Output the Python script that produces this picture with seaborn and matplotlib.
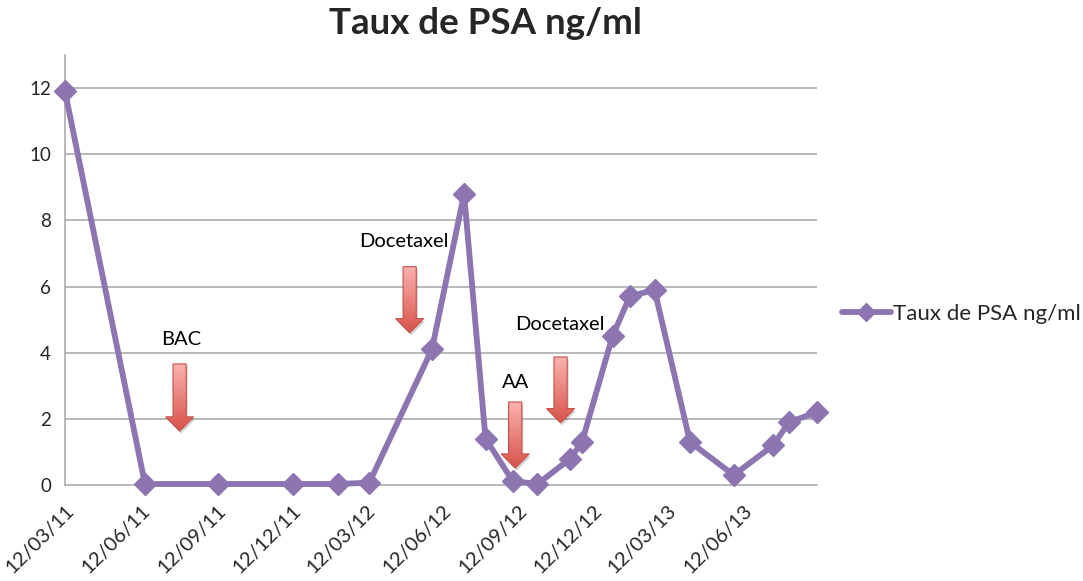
import matplotlib
matplotlib.use("Agg")
import matplotlib.pyplot as plt
import matplotlib.dates as mdates
import matplotlib.transforms as mtransforms
from matplotlib.patches import Polygon
from matplotlib.colors import LinearSegmentedColormap
import numpy as np
import pandas as pd
import seaborn as sns

# PSA measurements (date, ng/ml)
dates = ["2011-03-12", "2011-06-17", "2011-09-13", "2011-12-14", "2012-02-06",
         "2012-03-15", "2012-05-30", "2012-07-08", "2012-08-03", "2012-09-05",
         "2012-10-05", "2012-11-14", "2012-11-28", "2013-01-04", "2013-01-25",
         "2013-02-24", "2013-04-08", "2013-05-31", "2013-07-18", "2013-08-06",
         "2013-09-09"]
psa = [11.9, 0.03, 0.03, 0.03, 0.03,
       0.07, 4.1, 8.8, 1.4, 0.12,
       0.03, 0.8, 1.3, 4.5, 5.7,
       5.9, 1.3, 0.3, 1.2, 1.9,
       2.2]

# Quarterly tick dates
tick_dates = ["2011-03-12", "2011-06-12", "2011-09-12", "2011-12-12", "2012-03-12",
              "2012-06-12", "2012-09-12", "2012-12-12", "2013-03-12", "2013-06-12"]
y_ticks = [0, 2, 4, 6, 8, 10, 12]

# Treatment annotations: label, date, label height, arrow top, arrow tip
treat_labels = ["BAC", "Docetaxel", "AA", "Docetaxel"]
treat_dates = ["2011-07-29", "2012-05-03", "2012-09-08", "2012-11-02"]
treat_label_dates = ["2011-07-31", "2012-04-26", "2012-09-08", "2012-11-01"]
treat_label_y = [4.4, 7.35, 3.1, 4.85]
treat_top = [3.66, 6.6, 2.51, 3.87]
treat_tip = [1.63, 4.6, 0.51, 1.88]

series_name = "Taux de PSA ng/ml"
purple = "#8c75b1"
grid_gray = "#a6a6a6"

df = pd.DataFrame({"date": pd.to_datetime(dates), "psa": psa})

sns.set_style("white")
plt.rcParams["font.family"] = ["Lato", "DejaVu Sans"]

W, H = 1083, 581
fig = plt.figure(figsize=(W / 100, H / 100), dpi=100)
ax = fig.add_axes([65 / W, 1 - 485 / H, (817 - 65) / W, (485 - 55) / H])

sns.lineplot(data=df, x="date", y="psa", ax=ax, color=purple, linewidth=4.2,
             marker="D", markersize=11.5, markeredgecolor=purple,
             markeredgewidth=1, label=series_name, clip_on=False, zorder=5)

# Axes limits and ticks
ax.set_xlim(pd.Timestamp(dates[0]), pd.Timestamp(dates[-1]))
ax.set_ylim(0, 13)
ax.set_yticks(y_ticks)
ax.set_yticklabels([str(v) for v in y_ticks], fontsize=13.5)
tdates = pd.to_datetime(tick_dates)
ax.set_xticks(tdates)
ax.set_xticklabels([d.strftime("%d/%m/%y") for d in tdates], rotation=45,
                   ha="right", va="top", rotation_mode="anchor", fontsize=14.5)
ax.set_xlabel("")
ax.set_ylabel("")

for v in y_ticks[1:]:
    ax.axhline(v, color=grid_gray, linewidth=1.1, zorder=1)

for side in ["top", "right"]:
    ax.spines[side].set_visible(False)
for side in ["left", "bottom"]:
    ax.spines[side].set_color(grid_gray)
    ax.spines[side].set_linewidth(1.1)
ax.tick_params(axis="both", direction="out", length=6, width=1.1,
               color=grid_gray, pad=4)
ax.tick_params(axis="x", pad=6)

# Down arrows with a vertical red gradient
cmap = LinearSegmentedColormap.from_list("arrow", ["#fbb3b0", "#d8534a"])
shaft_w, head_w, head_len = 16, 34, 0.43
for d, top, tip in zip(treat_dates, treat_top, treat_tip):
    x0 = mdates.date2num(pd.Timestamp(d))
    verts = [(x0 - shaft_w / 2, top), (x0 + shaft_w / 2, top),
             (x0 + shaft_w / 2, tip + head_len), (x0 + head_w / 2, tip + head_len),
             (x0, tip), (x0 - head_w / 2, tip + head_len),
             (x0 - shaft_w / 2, tip + head_len)]
    shadow_tr = mtransforms.offset_copy(ax.transData, fig=fig, x=1.5, y=-2.5,
                                        units="dots")
    ax.add_patch(Polygon(verts, closed=True, facecolor="#000000", alpha=0.18,
                         edgecolor="none", transform=shadow_tr, zorder=2))
    poly = Polygon(verts, closed=True, facecolor="none", edgecolor="#c4504a",
                   linewidth=0.8, zorder=4)
    ax.add_patch(poly)
    grad = np.linspace(0, 1, 256).reshape(-1, 1)
    im = ax.imshow(grad, cmap=cmap, aspect="auto", origin="upper",
                   extent=[x0 - head_w / 2, x0 + head_w / 2, tip, top], zorder=3)
    im.set_clip_path(poly)

for lbl, d, y in zip(treat_labels, treat_label_dates, treat_label_y):
    ax.text(pd.Timestamp(d), y, lbl, ha="center", va="center", fontsize=14.5,
            color="black", zorder=6)

ax.set_xlim(pd.Timestamp(dates[0]), pd.Timestamp(dates[-1]))
ax.set_ylim(0, 13)

# Legend on the right
leg = ax.legend(loc="center left", bbox_to_anchor=(842 / W, 1 - 314 / H),
                bbox_transform=fig.transFigure, frameon=False, fontsize=16,
                handlelength=2.2, handletextpad=0.1, borderaxespad=0,
                borderpad=0)
for h in leg.legend_handles:
    h.set_markersize(9)

fig.text(485 / W, 1 - 24 / H, "Taux de PSA ng/ml", ha="center", va="center",
         fontsize=26.5, fontweight="bold")

fig.savefig("out.png", dpi=100)
